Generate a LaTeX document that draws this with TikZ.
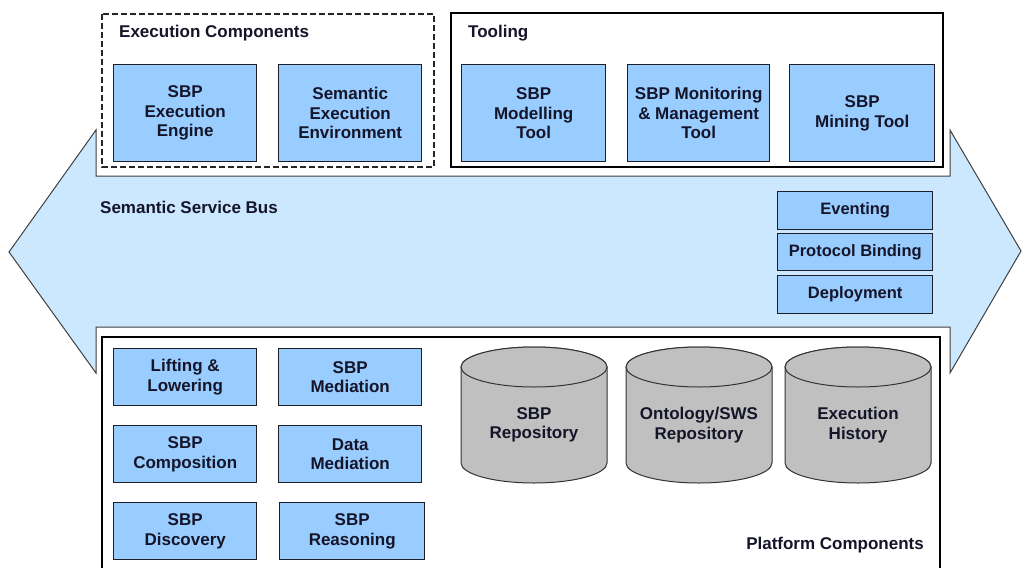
\documentclass[tikz,border=0pt]{standalone}
\usepackage{fontspec}
\setmainfont{Liberation Sans}
\definecolor{busfill}{HTML}{CCE8FF}
\definecolor{boxfill}{HTML}{99CCFF}
\definecolor{cylfill}{HTML}{C0C0C0}
\definecolor{txt}{HTML}{15152A}
\definecolor{edge}{HTML}{1E1E28}
\begin{document}
\begin{tikzpicture}[x=1pt,y=-1pt,
  lbl/.style={font=\fontsize{17}{19.5}\selectfont\bfseries, text=txt, inner sep=0pt},
  blk/.style={draw=edge, line width=1.4pt, fill=boxfill, anchor=north west, inner sep=0pt,
              align=center, font=\fontsize{17}{19.5}\selectfont\bfseries, text=txt},
  stk/.style={blk, font=\fontsize{16.5}{19}\selectfont\bfseries, minimum width=155pt},
  grp/.style={draw=black, line width=1.2pt, fill=white},
  bus/.style={draw=black!75, line width=1pt, fill=busfill, line join=miter},
  cyl/.style={draw=black!80, line width=1pt, fill=cylfill},
  cyltxt/.style={lbl, align=center}]
\useasboundingbox (0,0) rectangle (1024,567);
\clip (0,0) rectangle (1024,567);
\fill[white] (0,0) rectangle (1024,567);

% Semantic Service Bus (double arrow)
\draw[bus] (9,252) -- (96,130) -- (96,176) -- (950,176) -- (950,130) -- (1021,251)
  -- (950,373) -- (950,327) -- (96,327) -- (96,373) -- cycle;
\node[lbl, anchor=west] (ssb) at (100,207) {Semantic Service Bus};

% Execution Components
\draw[draw=black!85, line width=1.6pt, dash pattern=on 6pt off 3pt, fill=white] (102,14) rectangle (434,167);
\node[lbl, anchor=west] (ecl) at (119,33) {Execution Components};
\node[blk, minimum width=143pt, minimum height=97pt] (see) at (113,64) {SBP\\Execution\\Engine};
\node[blk, minimum width=143pt, minimum height=97pt] (sem) at (278,64) {Semantic\\Execution\\Environment};

% Tooling
\draw[grp] (451,13) rectangle (943,167);
\node[lbl, anchor=west] (tol) at (468,33) {Tooling};
\node[blk, minimum width=144pt, minimum height=97pt] (smt) at (461,64) {SBP\\Modelling\\Tool};
\node[blk, minimum width=142pt, minimum height=97pt] (smm) at (627,64) {SBP Monitoring\\\& Management\\Tool};
\node[blk, minimum width=145pt, minimum height=97pt] (smi) at (789,64) {SBP\\Mining Tool};

% Bus services
\node[stk, minimum height=38pt] (evt) at (777,191) {Eventing};
\node[stk, minimum height=37pt] (pbd) at (777,233) {Protocol Binding};
\node[stk, minimum height=38pt] (dep) at (777,275) {Deployment};

% Platform Components
\draw[grp] (102,337) rectangle (940,590);
\node[lbl, anchor=east] (pcl) at (924,545) {Platform Components};
\node[blk, minimum width=143pt, minimum height=57pt] (lil) at (113,348) {Lifting \&\\Lowering};
\node[blk, minimum width=143pt, minimum height=57pt] (smd) at (278,348) {SBP\\Mediation};
\node[blk, minimum width=143pt, minimum height=57pt] (scp) at (113,425) {SBP\\Composition};
\node[blk, minimum width=143pt, minimum height=57pt] (dmd) at (278,425) {Data\\Mediation};
\node[blk, minimum width=143pt, minimum height=57pt] (sdc) at (113,502) {SBP\\Discovery};
\node[blk, minimum width=145pt, minimum height=57pt] (srs) at (279,502) {SBP\\Reasoning};

% Cylinders
\foreach \cx/\nm/\tx in {534/srep/{SBP\\Repository}, 699/orep/{Ontology/SWS\\Repository}, 858/ehis/{Execution\\History}} {
  \draw[cyl] (\cx-73,367) -- (\cx-73,463) arc[start angle=180, end angle=360, x radius=73pt, y radius=20pt]
    -- (\cx+73,367) arc[start angle=0, end angle=180, x radius=73pt, y radius=20pt] -- cycle;
  \draw[cyl] (\cx,367) ellipse[x radius=73pt, y radius=20pt];
  \node[cyltxt] (\nm) at (\cx,425) {\tx};
}
\end{tikzpicture}
\end{document}
